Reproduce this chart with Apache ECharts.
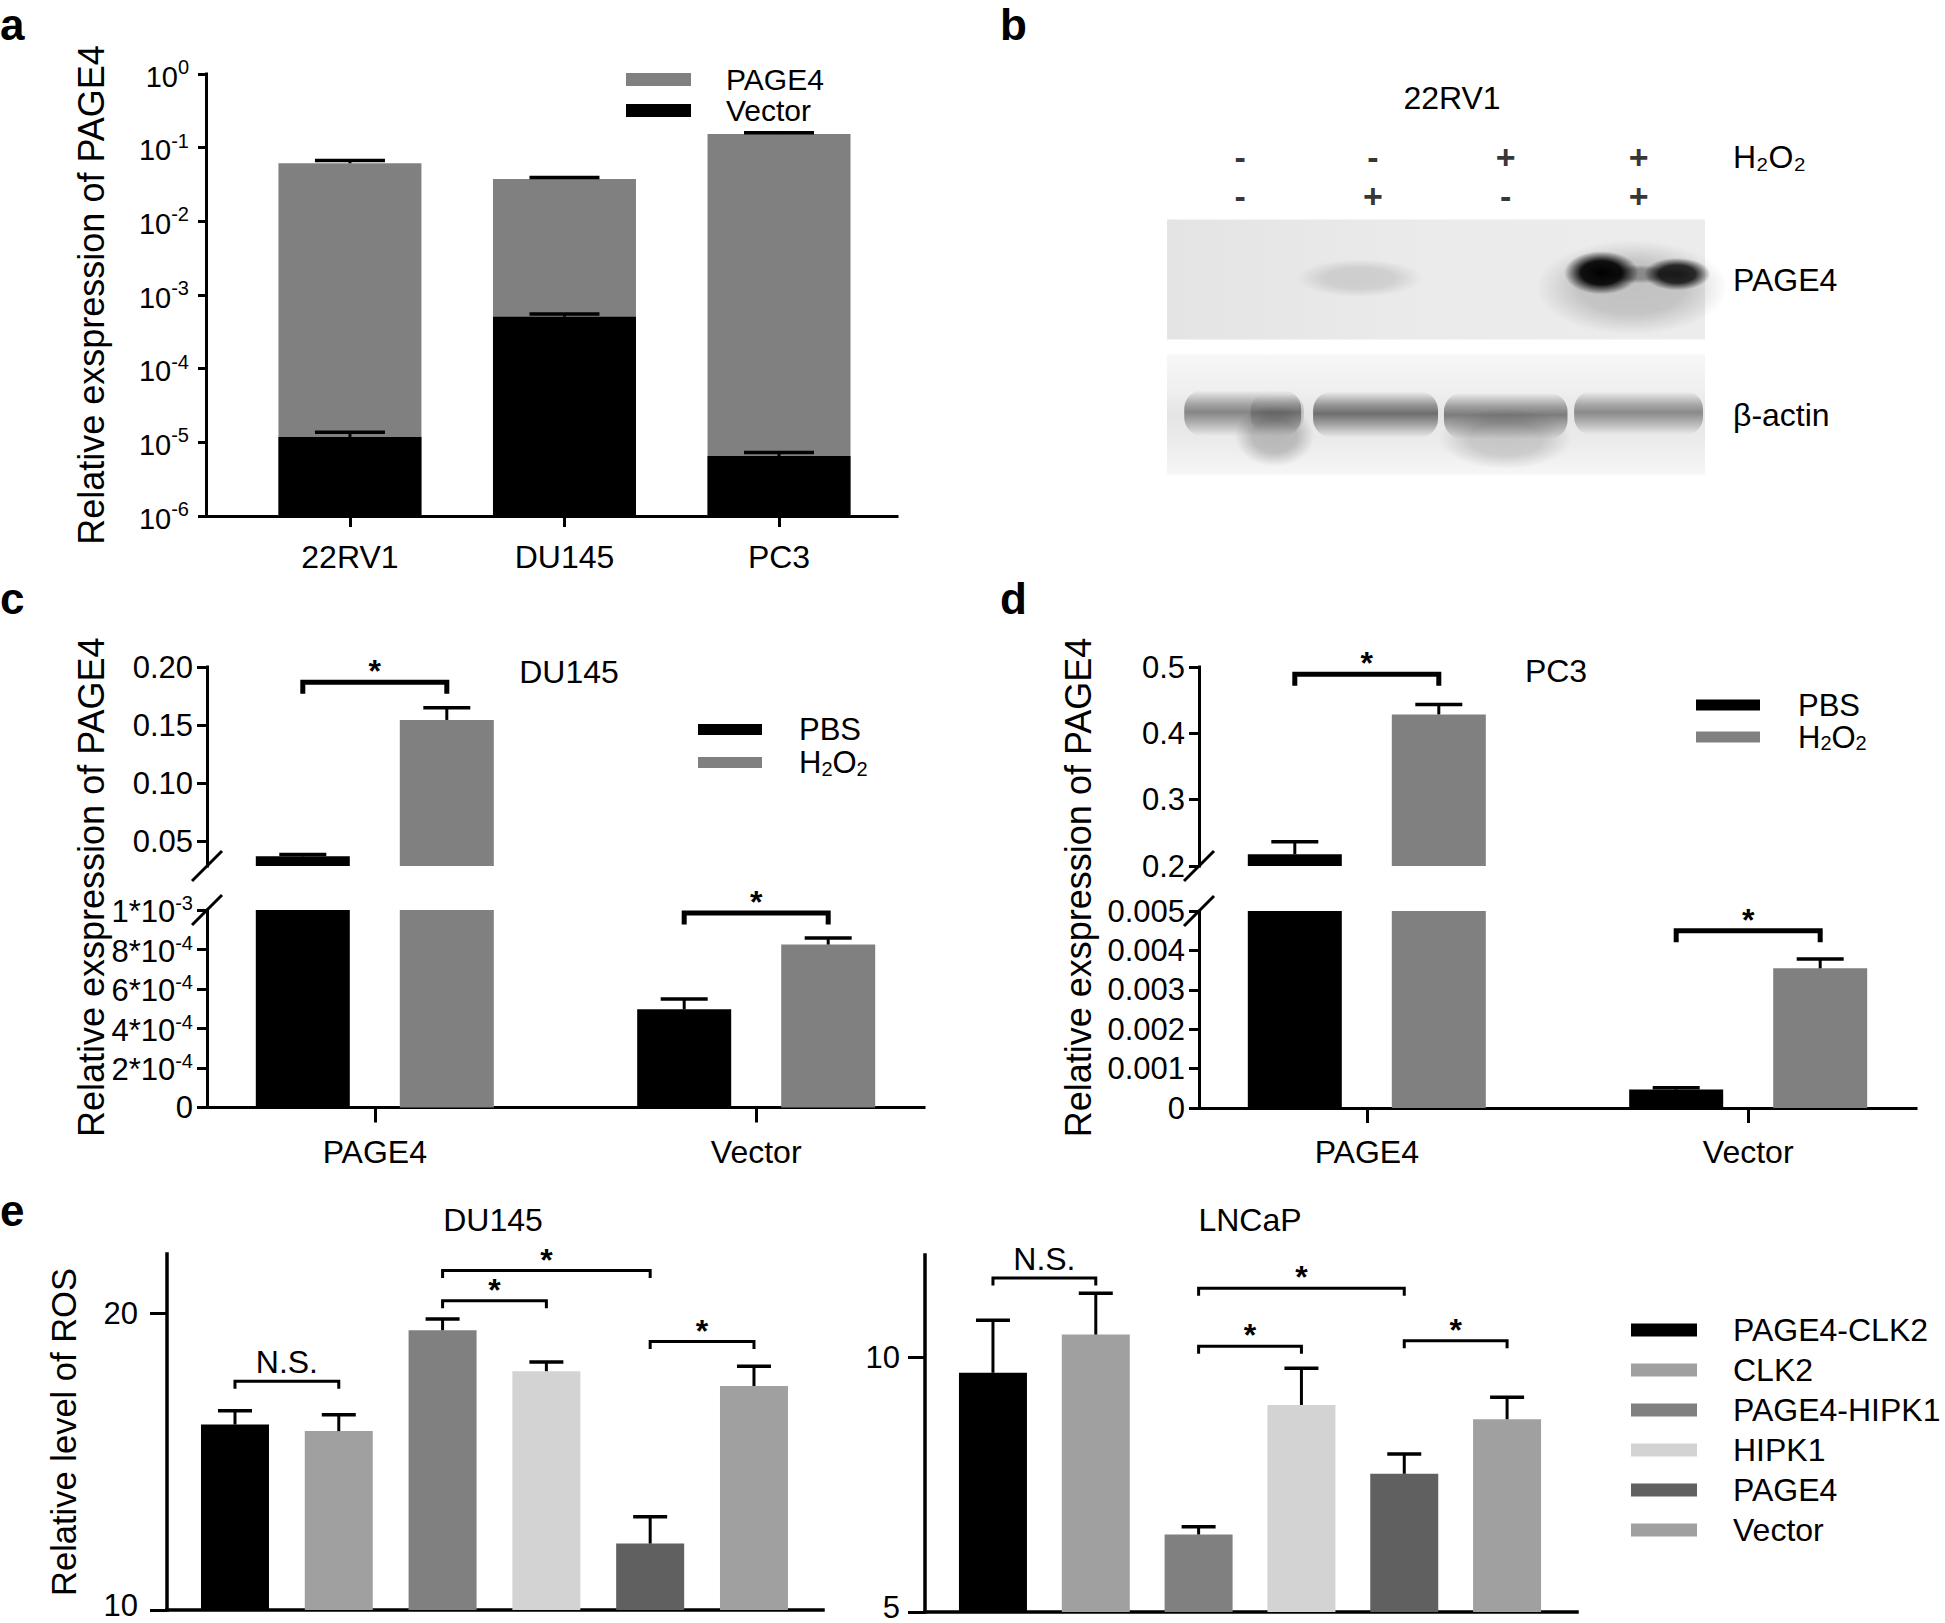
<!DOCTYPE html>
<html>
<head>
<meta charset="utf-8">
<script src="https://cdn.jsdelivr.net/npm/echarts@6/dist/echarts.min.js"></script>
<style>html,body{margin:0;padding:0;background:#fff}#chart{width:1945px;height:1623px}</style>
</head>
<body>
<div id="chart"></div>
<script>
// ================= DATA =================
// Panel a (log scale)
const aCells = ['22RV1', 'DU145', 'PC3'];
const aPage4 = [0.0614, 0.0376, 0.153];
const aPage4Top = [0.0672, 0.0394, 0.160];
const aVector = [1.18e-5, 5.07e-4, 6.5e-6];
const aVectorTop = [1.37e-5, 5.53e-4, 7.3e-6];

// Panel b (western blot)
const bH2O2 = ['-', '-', '+', '+'];
const bPAGE4 = ['-', '+', '-', '+'];
const bRowsTreat = ['H\u2082O\u2082', 'PAGE4'];
const bRowsBlot = ['PAGE4', '\u03b2-actin'];
// [lane, row, rowOffset, widthLanes, heightRows, darkness, kind(0 spot,1 band)]
const bSpots = [
  [0.90, 0, -0.01, 0.95, 0.28, 0.12, 0],
  [2.95, 0, 0.06, 1.45, 0.70, 0.18, 0],
  [3.00, 0, -0.04, 0.55, 0.14, 0.30, 0],
  [2.72, 0, -0.05, 0.56, 0.32, 1.00, 0],
  [3.29, 0, -0.04, 0.50, 0.24, 0.88, 0],
  [0.26, 1, 0.16, 0.60, 0.45, 0.22, 0],
  [2.00, 1, 0.18, 1.00, 0.45, 0.16, 0],
  [0.02, 1, -0.01, 0.88, 0.34, 0.42, 1],
  [0.28, 1, -0.01, 0.40, 0.28, 0.16, 1],
  [1.02, 1, 0.00, 0.94, 0.34, 0.52, 1],
  [2.00, 1, 0.01, 0.93, 0.34, 0.46, 1],
  [3.00, 1, -0.01, 0.97, 0.32, 0.40, 1]
];

// Panel c (DU145, broken axis)
const cGroups = ['PAGE4', 'Vector'];
const cPBS = [0.0373, 0.000497];
const cPBSTop = [0.0388, 0.00055];
const cH2O2 = [0.1545, 0.000825];
const cH2O2Top = [0.165, 0.000858];
const cSig = [[0, 0, 0.187], [1, 1, 0.000985]];

// Panel d (PC3, broken axis)
const dGroups = ['PAGE4', 'Vector'];
const dPBS = [0.2176, 0.000467];
const dPBSTop = [0.2365, 0.000515];
const dH2O2 = [0.4285, 0.003546];
const dH2O2Top = [0.4435, 0.00378];
const dSig = [[0, 0, 0.489], [1, 1, 0.0045]];

// Panel e (ROS)
const eGroups = ['PAGE4-CLK2', 'CLK2', 'PAGE4-HIPK1', 'HIPK1', 'PAGE4', 'Vector'];
const eColors = ['#000000', '#a0a0a0', '#808080', '#d3d3d3', '#606060', '#a0a0a0'];
const eDU = [16.25, 16.03, 19.43, 18.05, 12.24, 17.55];
const eDUTop = [16.72, 16.58, 19.81, 18.36, 13.14, 18.22];
const eDUSig = [[0, 1, 17.71, 'N.S.'], [2, 3, 20.42, '*'], [2, 4, 21.44, '*'], [4, 5, 19.05, '*']];
const eLN = [9.69, 10.44, 6.52, 9.06, 7.71, 8.78];
const eLNTop = [10.72, 11.25, 6.67, 9.78, 8.10, 9.21];
const eLNSig = [[0, 1, 11.55, 'N.S.'], [2, 3, 10.21, '*'], [2, 4, 11.35, '*'], [4, 5, 10.32, '*']];

// ================= HELPERS =================
const FONT = "'Liberation Sans', Arial, Helvetica, sans-serif";
function txt(size, extra) {
  return Object.assign({ color: '#000', fontFamily: FONT, fontSize: size, fontWeight: 'normal' }, extra || {});
}
const grids = [], xAxes = [], yAxes = [], series = [];
function addGrid(rect, x, y) {
  grids.push(Object.assign({ containLabel: false, outerBoundsMode: 'none' }, rect));
  const gi = grids.length - 1;
  xAxes.push(Object.assign({ gridIndex: gi }, x));
  yAxes.push(Object.assign({ gridIndex: gi }, y));
  return gi;
}
function axLine(w) { return { show: true, onZero: false, lineStyle: { color: '#000', width: w, cap: 'square' } }; }
function axTick(len, w, custom) {
  const t = { show: true, length: len, inside: false, lineStyle: { color: '#000', width: w } };
  if (custom) t.customValues = custom;
  return t;
}
function rectBar(width, base, color) {
  return function (params, api) {
    const x = api.value(0), v = api.value(1);
    const p = api.coord([x, v]);
    const b = api.coord([x, base]);
    return { type: 'rect', shape: { x: p[0] - width / 2, y: p[1], width: width, height: b[1] - p[1] }, style: { fill: color } };
  };
}
function errorBar(capW, offset, lw) {
  return function (params, api) {
    const x = api.value(0), m = api.value(1), t = api.value(2);
    const p0 = api.coord([x, m]), p1 = api.coord([x, t]);
    const cx = p0[0] + offset;
    return { type: 'group', children: [
      { type: 'line', shape: { x1: cx, y1: p0[1], x2: cx, y2: p1[1] }, style: { stroke: '#000', lineWidth: lw, fill: 'none' } },
      { type: 'line', shape: { x1: cx - capW / 2, y1: p1[1], x2: cx + capW / 2, y2: p1[1] }, style: { stroke: '#000', lineWidth: lw + 0.5, fill: 'none' } }
    ] };
  };
}
function bracketRender(pxOff, leg, lw, labels) {
  return function (params, api) {
    const a = api.coord([api.value(0), api.value(2)]);
    const b = api.coord([api.value(1), api.value(2)]);
    const x1 = a[0] - pxOff, x2 = b[0] + pxOff, y = a[1];
    const lab = labels[params.dataIndex];
    const star = lab === '*';
    return { type: 'group', children: [
      { type: 'polyline', shape: { points: [[x1, y + leg], [x1, y], [x2, y], [x2, y + leg]] },
        style: { stroke: '#000', lineWidth: lw, fill: 'none', lineJoin: 'miter', lineCap: 'square' } },
      { type: 'text', x: (x1 + x2) / 2, y: star ? y - 11 : y - 19,
        style: { text: lab, fill: '#000', fontSize: 32, fontFamily: FONT, fontWeight: star ? 'bold' : 'normal',
                 align: 'center', verticalAlign: 'middle', textAlign: 'center', textVerticalAlign: 'middle' } }
    ] };
  };
}
function slashRender(params, api) {
  const p = api.coord([api.value(0), api.value(1)]);
  return { type: 'line', shape: { x1: p[0] - 15, y1: p[1] + 15, x2: p[0] + 15, y2: p[1] - 15 },
           style: { stroke: '#000', lineWidth: 3, fill: 'none' } };
}
const supRich = (size) => ({
  b: txt(size, { lineHeight: 34, verticalAlign: 'bottom' }),
  s: txt(20, { lineHeight: 12, verticalAlign: 'top' })
});
function sciFmt(v) {
  if (v === 0) return '0';
  const e = Math.floor(Math.log10(v) + 1e-9);
  const m = Math.round(v / Math.pow(10, e));
  return '{b|' + m + '*10}{s|' + e + '}';
}

// ================= PANEL a =================
const gA = addGrid({ left: 206, top: 74, width: 691, height: 442 },
  { type: 'value', min: -0.671, max: 2.55, axisLine: axLine(3), axisTick: axTick(11, 3, [0, 1, 2]),
    axisLabel: Object.assign(txt(32), { show: true, customValues: [0, 1, 2], margin: 25, formatter: v => aCells[Math.round(v)] }),
    splitLine: { show: false } },
  { type: 'log', logBase: 10, min: 1e-6, max: 1, axisLine: axLine(3), axisTick: axTick(8, 3),
    axisLabel: Object.assign(txt(29), { margin: 17, formatter: v => '{b|10}{s|' + Math.round(Math.log10(v)) + '}', rich: supRich(29) }),
    splitLine: { show: false }, minorTick: { show: false },
    name: 'Relative exspression of PAGE4', nameLocation: 'middle', nameGap: 97, nameTextStyle: txt(36), nameMoveOverlap: false });
const aBarW = 143;
series.push({ type: 'custom', name: 'a:PAGE4', xAxisIndex: gA, yAxisIndex: gA, itemStyle: { color: '#808080' },
  renderItem: rectBar(aBarW, 1e-6, '#808080'), data: aCells.map((c, i) => [i, aPage4[i]]), z: 2, silent: true });
series.push({ type: 'custom', name: 'a:Vector', xAxisIndex: gA, yAxisIndex: gA, itemStyle: { color: '#000000' },
  renderItem: rectBar(aBarW, 1e-6, '#000000'), data: aCells.map((c, i) => [i, aVector[i]]), z: 3, silent: true });
series.push({ type: 'custom', name: '_aErr1', xAxisIndex: gA, yAxisIndex: gA, renderItem: errorBar(70, 0, 3),
  data: aCells.map((c, i) => [i, aPage4[i], aPage4Top[i]]), z: 4, silent: true });
series.push({ type: 'custom', name: '_aErr2', xAxisIndex: gA, yAxisIndex: gA, renderItem: errorBar(70, 0, 3),
  data: aCells.map((c, i) => [i, aVector[i], aVectorTop[i]]), z: 5, silent: true });

// ================= PANEL b =================
const bX = { type: 'value', min: -0.55, max: 3.5, show: false };
const gB1 = addGrid({ left: 1167, top: 137.5, width: 538, height: 78 }, bX,
  { type: 'category', data: bRowsTreat, inverse: true, position: 'right',
    axisLine: { show: false }, axisTick: { show: false }, splitLine: { show: false },
    axisLabel: Object.assign(txt(32), { margin: 28, align: 'left' }) });
const bSigns = bH2O2.concat(bPAGE4);
series.push({ type: 'scatter', xAxisIndex: gB1, yAxisIndex: gB1, symbol: 'rect', symbolSize: 1,
  itemStyle: { color: 'rgba(0,0,0,0)' }, silent: true,
  label: Object.assign({ show: true, position: 'inside', formatter: p => bSigns[p.dataIndex] }, txt(34, { fontWeight: 'bold' })),
  data: bH2O2.map((s, i) => [i, 0]).concat(bPAGE4.map((s, i) => [i, 1])) });

const gB2 = addGrid({ left: 1167, top: 212, width: 538, height: 270 }, bX,
  { type: 'category', data: bRowsBlot, inverse: true, position: 'right',
    axisLine: { show: false }, axisTick: { show: false }, splitLine: { show: false },
    axisLabel: Object.assign(txt(32), { margin: 28, align: 'left' }) });
series.push({ type: 'custom', xAxisIndex: gB2, yAxisIndex: gB2, silent: true, z: 1,
  data: bRowsBlot.map((r, i) => [0, i]),
  renderItem: function (params, api) {
    const r = api.value(1);
    const c = api.coord([0, r]);
    const cs = params.coordSys;
    const fill = r === 0
      ? new echarts.graphic.LinearGradient(0, 0, 1, 0, [{ offset: 0, color: '#e4e4e4' }, { offset: 0.5, color: '#ebebeb' }, { offset: 1, color: '#ececec' }])
      : new echarts.graphic.LinearGradient(0, 0, 0, 1, [{ offset: 0, color: '#f7f7f7' }, { offset: 0.3, color: '#efefef' }, { offset: 0.5, color: '#e5e5e5' }, { offset: 0.75, color: '#ececec' }, { offset: 1, color: '#f6f6f6' }]);
    return { type: 'rect', shape: { x: cs.x, y: c[1] - 60, width: cs.width, height: 120 }, style: { fill: fill } };
  } });
series.push({ type: 'custom', xAxisIndex: gB2, yAxisIndex: gB2, silent: true, z: 2, data: bSpots,
  renderItem: function (params, api) {
    const x = api.value(0), r = api.value(1), dy = api.value(2), w = api.value(3), h = api.value(4), d = api.value(5), kind = api.value(6);
    const c = api.coord([x, r]);
    const sz = api.size([1, 1], [x, r]);
    const pw = w * sz[0], ph = h * sz[1];
    const cy = c[1] + dy * sz[1];
    if (kind === 1) {
      return { type: 'rect', shape: { x: c[0] - pw / 2, y: cy - ph / 2, width: pw, height: ph, r: ph / 2.5 },
        style: { fill: new echarts.graphic.LinearGradient(0, 0, 0, 1, [
          { offset: 0, color: 'rgba(0,0,0,0)' }, { offset: 0.3, color: 'rgba(0,0,0,' + (d * 0.7) + ')' },
          { offset: 0.48, color: 'rgba(0,0,0,' + d + ')' }, { offset: 0.7, color: 'rgba(0,0,0,' + (d * 0.6) + ')' },
          { offset: 1, color: 'rgba(0,0,0,0)' }]) } };
    }
    return { type: 'rect', x: c[0], y: cy, scaleX: 1, scaleY: ph / pw,
      shape: { x: -pw / 2, y: -pw / 2, width: pw, height: pw },
      style: { fill: new echarts.graphic.RadialGradient(0.5, 0.5, 0.5, [
        { offset: 0, color: 'rgba(0,0,0,' + d + ')' }, { offset: 0.55, color: 'rgba(0,0,0,' + (d * 0.92) + ')' },
        { offset: 1, color: 'rgba(0,0,0,0)' }]) } };
  } });

// ================= PANELS c & d =================
const BW = 94, GAP = 50;
function brokenPanel(p) {
  const xmin = -0.44, xmax = 1.44;
  const yDef = seg => ({ type: 'value', min: seg.min, max: seg.max, axisLine: axLine(3), axisTick: axTick(10, 3, seg.ticks),
    axisLabel: Object.assign(txt(31), { customValues: seg.ticks, margin: 14, formatter: seg.fmt, rich: supRich(31) }),
    splitLine: { show: false } });
  const gU = addGrid({ left: p.left, top: p.upper.top, width: p.width, height: p.upper.height },
    { type: 'value', min: xmin, max: xmax, show: false }, yDef(p.upper));
  const gL = addGrid({ left: p.left, top: p.lower.top, width: p.width, height: p.lower.height },
    { type: 'value', min: xmin, max: xmax, axisLine: axLine(3), axisTick: axTick(15, 3, [0, 1]),
      axisLabel: Object.assign(txt(32), { customValues: [0, 1], margin: 28, formatter: v => p.groups[Math.round(v)] }),
      splitLine: { show: false } }, yDef(p.lower));
  addGrid({ left: p.left, top: p.upper.top, width: p.width, height: p.lower.top + p.lower.height - p.upper.top },
    { type: 'value', min: 0, max: 1, show: false },
    { type: 'value', min: 0, max: 1, axisLine: { show: false }, axisTick: { show: false }, axisLabel: { show: false },
      splitLine: { show: false }, name: 'Relative exspression of PAGE4', nameLocation: 'middle', nameGap: p.nameGap,
      nameTextStyle: txt(36), nameMoveOverlap: false });
  const off = (BW + GAP) / 2;
  const gapPct = (GAP / BW * 100).toFixed(1) + '%';
  [[gU, p.upper], [gL, p.lower]].forEach(function (pair) {
    const g = pair[0], seg = pair[1];
    const inR = v => v >= seg.min && v <= seg.max;
    series.push({ type: 'bar', name: p.prefix + ':PBS', xAxisIndex: g, yAxisIndex: g, barWidth: BW, barGap: gapPct,
      data: p.groups.map((n, i) => [i, p.pbs[i]]), itemStyle: { color: '#000000' }, clip: true, z: 2, silent: true });
    series.push({ type: 'bar', name: p.prefix + ':H2O2', xAxisIndex: g, yAxisIndex: g, barWidth: BW, barGap: gapPct,
      data: p.groups.map((n, i) => [i, p.h2[i]]), itemStyle: { color: '#808080' }, clip: true, z: 2, silent: true });
    series.push({ type: 'custom', xAxisIndex: g, yAxisIndex: g, renderItem: errorBar(BW / 2, -off, 3), z: 3, silent: true,
      data: p.groups.map((n, i) => [i, p.pbs[i], p.pbsTop[i]]).filter(d => inR(d[1])) });
    series.push({ type: 'custom', xAxisIndex: g, yAxisIndex: g, renderItem: errorBar(BW / 2, off, 3), z: 3, silent: true,
      data: p.groups.map((n, i) => [i, p.h2[i], p.h2Top[i]]).filter(d => inR(d[1])) });
    const sig = p.sig.filter(s => inR(s[2]));
    series.push({ type: 'custom', xAxisIndex: g, yAxisIndex: g, renderItem: bracketRender(off, 9, 5, sig.map(() => '*')),
      z: 3, silent: true, data: sig });
  });
  series.push({ type: 'custom', xAxisIndex: gU, yAxisIndex: gU, renderItem: slashRender, z: 6, silent: true, data: [[xmin, p.upper.min]] });
  series.push({ type: 'custom', xAxisIndex: gL, yAxisIndex: gL, renderItem: slashRender, z: 6, silent: true, data: [[xmin, p.lower.max]] });
}
brokenPanel({ left: 207, width: 717, prefix: 'c', groups: cGroups, pbs: cPBS, pbsTop: cPBSTop, h2: cH2O2, h2Top: cH2O2Top,
  sig: cSig, nameGap: 98,
  upper: { top: 667, height: 199, min: 0.029, max: 0.2, ticks: [0.05, 0.1, 0.15, 0.2], fmt: v => v.toFixed(2) },
  lower: { top: 910, height: 197.5, min: 0, max: 0.001, ticks: [0, 0.0002, 0.0004, 0.0006, 0.0008, 0.001], fmt: sciFmt } });
brokenPanel({ left: 1199, width: 717, prefix: 'd', groups: dGroups, pbs: dPBS, pbsTop: dPBSTop, h2: dH2O2, h2Top: dH2O2Top,
  sig: dSig, nameGap: 103,
  upper: { top: 667, height: 199, min: 0.2, max: 0.5, ticks: [0.2, 0.3, 0.4, 0.5], fmt: v => v.toFixed(1) },
  lower: { top: 911, height: 197, min: 0, max: 0.005, ticks: [0, 0.001, 0.002, 0.003, 0.004, 0.005], fmt: v => (v === 0 ? '0' : v.toFixed(3)) } });

// ================= PANEL e =================
function rosPanel(p) {
  const g = addGrid({ left: p.gLeft, top: p.gTop, width: p.gWidth, height: p.gHeight },
    { type: 'value', min: p.xmin, max: p.xmax, axisLine: axLine(3.5), axisTick: { show: false }, axisLabel: { show: false }, splitLine: { show: false } },
    Object.assign({ type: 'value', min: p.min, max: p.max, axisLine: axLine(3.5), axisTick: axTick(17, 3, p.ticks),
      axisLabel: Object.assign(txt(31), { customValues: p.ticks, margin: p.margin,
        formatter: v => (v === p.min ? '{lo|' + v + '}' : String(v)),
        rich: { lo: txt(31, { lineHeight: 20, padding: [0, 0, 10, 0] }) } }),
      splitLine: { show: false } },
      p.name ? { name: p.name, nameLocation: 'middle', nameGap: 86, nameTextStyle: txt(34.5), nameMoveOverlap: false } : {}));
  eGroups.forEach(function (n, i) {
    series.push({ type: 'bar', name: 'e:' + n, xAxisIndex: g, yAxisIndex: g, barWidth: 68, barGap: '-100%',
      data: [[i, p.mean[i]]], itemStyle: { color: eColors[i] }, clip: true, z: 2, silent: true });
  });
  series.push({ type: 'custom', xAxisIndex: g, yAxisIndex: g, renderItem: errorBar(34, 0, 3), z: 3, silent: true,
    data: eGroups.map((n, i) => [i, p.mean[i], p.errTop[i]]) });
  series.push({ type: 'custom', xAxisIndex: g, yAxisIndex: g, renderItem: bracketRender(0, 6, 3, p.sig.map(s => s[3])),
    z: 3, silent: true, data: p.sig.map(s => [s[0], s[1], s[2]]) });
}
rosPanel({ gLeft: 167, gTop: 1254, gWidth: 656, gHeight: 356, xmin: -0.655, xmax: 5.665, min: 10, max: 22, ticks: [10, 20],
  margin: 29, mean: eDU, errTop: eDUTop, sig: eDUSig, name: 'Relative level of ROS' });
rosPanel({ gLeft: 925, gTop: 1255, gWidth: 652, gHeight: 357, xmin: -0.661, xmax: 5.68, min: 5, max: 12, ticks: [5, 10],
  margin: 25, mean: eLN, errTop: eLNTop, sig: eLNSig });

// ================= LEGENDS =================
const h2oFmt = n => (n.endsWith('H2O2') ? '{n|H}{u|2}{n|O}{u|2}' : n.split(':')[1]);
const legendBase = { orient: 'vertical', itemGap: 0, icon: 'rect', padding: 0, selectedMode: false, itemStyle: { borderWidth: 0 } };
const legends = [
  Object.assign({}, legendBase, { left: 626, top: 64, itemWidth: 65, itemHeight: 13, data: ['a:PAGE4', 'a:Vector'],
    formatter: n => n.slice(2), textStyle: txt(30, { lineHeight: 31, padding: [0, 0, 0, 30] }) }),
  Object.assign({}, legendBase, { left: 698, top: 713, itemWidth: 64, itemHeight: 11, data: ['c:PBS', 'c:H2O2'],
    formatter: h2oFmt, textStyle: txt(31, { lineHeight: 33, padding: [0, 0, 0, 32],
      rich: { n: txt(31, { lineHeight: 33 }), u: txt(20, { lineHeight: 10, verticalAlign: 'bottom' }) } }) }),
  Object.assign({}, legendBase, { left: 1696, top: 689, itemWidth: 64, itemHeight: 11, data: ['d:PBS', 'd:H2O2'],
    formatter: h2oFmt, textStyle: txt(31, { lineHeight: 32, padding: [0, 0, 0, 33],
      rich: { n: txt(31, { lineHeight: 32 }), u: txt(20, { lineHeight: 10, verticalAlign: 'bottom' }) } }) }),
  Object.assign({}, legendBase, { left: 1631, top: 1310, itemWidth: 66, itemHeight: 13, data: eGroups.map(n => 'e:' + n),
    formatter: n => n.slice(2), textStyle: txt(32, { lineHeight: 40, padding: [0, 0, 0, 31] }) })
];

// ================= TEXT (panel letters, titles) =================
function gText(t, x, y, size, weight, align) {
  return { type: 'text', x: x, y: y, silent: true,
    style: { text: t, fill: '#000', fontSize: size, fontFamily: FONT, fontWeight: weight,
             align: align, verticalAlign: 'middle', textAlign: align, textVerticalAlign: 'middle' } };
}
const graphics = [
  gText('a', 0, 24, 44, 'bold', 'left'),
  gText('b', 1000, 24, 44, 'bold', 'left'),
  gText('c', 0, 598, 44, 'bold', 'left'),
  gText('d', 1000, 598, 44, 'bold', 'left'),
  gText('e', 0, 1210, 44, 'bold', 'left'),
  gText('22RV1', 1452, 98, 32, 'normal', 'center'),
  gText('DU145', 569, 672, 32, 'normal', 'center'),
  gText('PC3', 1556, 671, 32, 'normal', 'center'),
  gText('DU145', 493, 1220, 32, 'normal', 'center'),
  gText('LNCaP', 1250, 1220, 32, 'normal', 'center')
];

const chart = echarts.init(document.getElementById('chart'), null, { renderer: 'svg', width: 1945, height: 1623 });
chart.setOption({
  animation: false,
  backgroundColor: '#ffffff',
  textStyle: { fontFamily: FONT, color: '#000' },
  grid: grids,
  xAxis: xAxes,
  yAxis: yAxes,
  legend: legends,
  graphic: graphics,
  series: series
});
</script>
</body>
</html>
